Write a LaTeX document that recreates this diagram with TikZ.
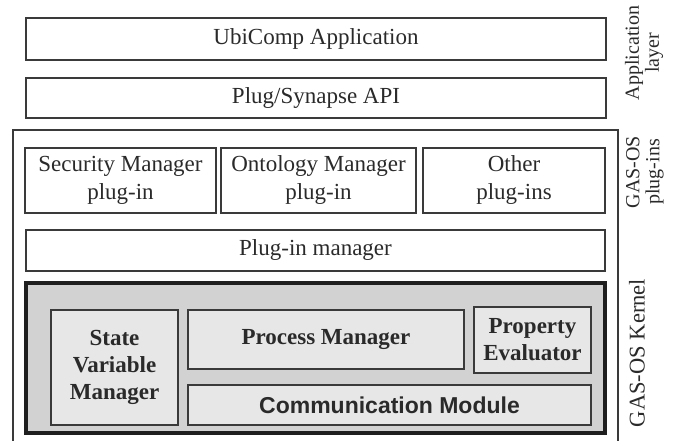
\documentclass[tikz,border=0pt]{standalone}
\usepackage{fontspec}
\setmainfont{Liberation Serif}
\newfontfamily\sansfam{Liberation Sans}
\definecolor{linec}{HTML}{3A3A3A}
\definecolor{textc}{HTML}{2A2A2A}
\definecolor{kernfill}{HTML}{D2D2D2}
\definecolor{innerfill}{HTML}{E7E7E7}
\begin{document}
\begin{tikzpicture}[x=1pt,y=-1pt,
  box/.style={draw=linec, line width=1.1pt, inner sep=0pt, align=center,
    text=textc, font=\fontsize{23}{28}\selectfont},
  kbox/.style={box, fill=innerfill, line width=1.2pt, font=\fontsize{23}{27}\selectfont\bfseries},
  sidelabel/.style={rotate=90, align=center, text=textc, inner sep=0pt,
    font=\fontsize{20}{20}\selectfont}]
\useasboundingbox (0,0) rectangle (673,441);
% application layer
\node[box, minimum width=580pt, minimum height=42pt] (ubi) at (316,39) {UbiComp Application};
\node[box, minimum width=580pt, minimum height=40pt] (api) at (316,98) {Plug/Synapse API};
% plug-in frame
\draw[linec, line width=1.1pt] (13,446) |- (618,130) -- (618,446);
\node[box, minimum width=191pt, minimum height=65pt] (sec) at (120.5,180.5) {Security Manager\\plug-in};
\node[box, minimum width=195pt, minimum height=65pt] (ont) at (318.5,180.5) {Ontology Manager\\plug-in};
\node[box, minimum width=182pt, minimum height=65pt] (oth) at (514,180.5) {Other\\plug-ins};
\node[box, minimum width=579pt, minimum height=41pt] (pim) at (315.5,250.5) {Plug-in manager};
% kernel
\node[draw=black!88, line width=4pt, fill=kernfill, minimum width=579pt, minimum height=150pt, inner sep=0pt] (kern) at (315.5,358) {};
\node[kbox, minimum width=127pt, minimum height=115pt] (svm) at (114.5,367.5) {State\\Variable\\Manager};
\node[kbox, minimum width=276pt, minimum height=59pt] (pm) at (326,339.5) {Process Manager};
\node[kbox, minimum width=117pt, minimum height=66pt] (pe) at (532.5,340) {Property\\Evaluator};
\node[kbox, minimum width=403pt, minimum height=40pt, font=\fontsize{23}{27}\selectfont\sansfam\bfseries] (cm) at (389.5,405) {Communication Module};
% side labels
\node[sidelabel] (lapp) at (644,53) {Application\\layer};
\node[sidelabel] (lplug) at (645,172) {GAS-OS\\plug-ins};
\node[sidelabel, font=\fontsize{22.5}{22}\selectfont] (lkern) at (637,353) {GAS-OS Kernel};
\end{tikzpicture}
\end{document}
